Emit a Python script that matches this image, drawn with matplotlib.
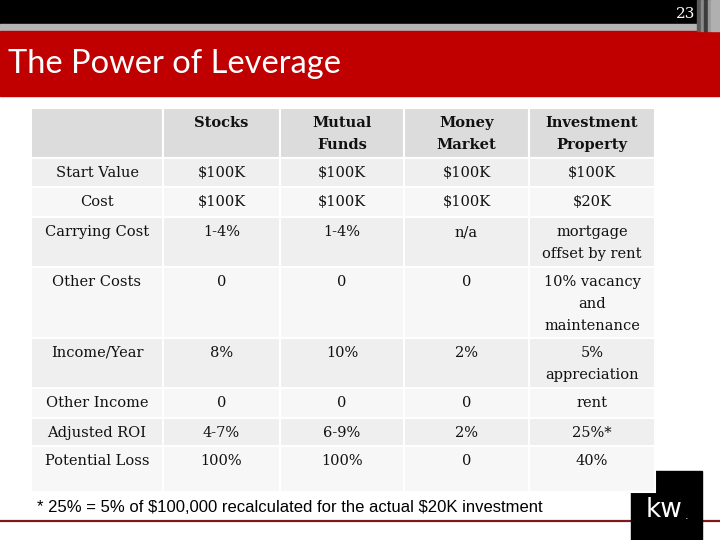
import matplotlib.pyplot as plt
from matplotlib.patches import Rectangle

# table content
headers = ["", "Stocks", "Mutual\nFunds", "Money\nMarket", "Investment\nProperty"]
row_labels = ["Start Value", "Cost", "Carrying Cost", "Other Costs",
              "Income/Year", "Other Income", "Adjusted ROI", "Potential Loss"]
stocks = ["$100K", "$100K", "1-4%", "0", "8%", "0", "4-7%", "100%"]
mutual_funds = ["$100K", "$100K", "1-4%", "0", "10%", "0", "6-9%", "100%"]
money_market = ["$100K", "$100K", "n/a", "0", "2%", "0", "2%", "0"]
investment_property = ["$100K", "$20K", "mortgage\noffset by rent",
                       "10% vacancy\nand\nmaintenance", "5%\nappreciation",
                       "rent", "25%*", "40%"]
title = "The Power of Leverage"
page_no = "23"
footnote = "* 25% = 5% of $100,000 recalculated for the actual $20K investment"

# layout (pixels)
col_edges = [31, 163, 280, 404, 529, 655]
row_edges = [108, 158, 187, 217, 267, 338, 388, 418, 446, 492]
LINE = 22
SERIF = ["DejaVu Serif"]

plt.rcParams["text.parse_math"] = False

fig = plt.figure(figsize=(7.2, 5.4), dpi=100)
ax = fig.add_axes([0, 0, 1, 1])
ax.set_xlim(0, 720)
ax.set_ylim(540, 0)
ax.axis("off")

# header bands
ax.add_patch(Rectangle((0, 0), 720, 24, color="black"))
ax.add_patch(Rectangle((0, 24), 720, 7, color="#b4b4b4"))
ax.add_patch(Rectangle((0, 31), 720, 65, color="#c00000"))
for x0, w, c in [(697, 3, "#5a5a5a"), (701, 2, "#8a8a8a"), (704, 3, "#3c3c3c"),
                 (708, 2, "#9a9a9a"), (711, 9, "#b0b0b0")]:
    ax.add_patch(Rectangle((x0, 0), w, 31, color=c))
ax.text(8, 64, title, color="white", fontsize=23.5, family="Lato",
        va="center", ha="left")
ax.text(686, 14, page_no, color="white", fontsize=11, family=SERIF,
        va="center", ha="center")

# bottom line and logo
ax.plot([0, 720], [521, 521], color="#7a1c1c", lw=1.6, solid_capstyle="butt")
ax.add_patch(Rectangle((631, 471), 71, 69, color="black", zorder=3))
ax.text(664, 510, "kw", color="white", fontsize=19, family="DejaVu Sans",
        va="center", ha="center", zorder=4)
ax.text(687, 516, ".", color="white", fontsize=8, family="DejaVu Sans",
        va="center", ha="center", zorder=4)

# table
columns = [row_labels, stocks, mutual_funds, money_market, investment_property]


def draw_cell(ci, ri, label, bold, fill):
    x0, x1 = col_edges[ci], col_edges[ci + 1]
    y0, y1 = row_edges[ri], row_edges[ri + 1]
    ax.add_patch(Rectangle((x0, y0), x1 - x0, y1 - y0, facecolor=fill,
                           edgecolor="white", lw=1.5, zorder=5))
    for k, line in enumerate(label.split("\n")):
        ax.text((x0 + x1) / 2, y0 + 15 + k * LINE, line, ha="center",
                va="center", fontsize=10.5, family=SERIF, color="#111111",
                fontweight="bold" if bold else "normal", zorder=6)


for ci, h in enumerate(headers):
    draw_cell(ci, 0, h, True, "#dcdcdc")
for ri in range(len(row_labels)):
    fill = "#efefef" if ri % 2 == 0 else "#f7f7f7"
    for ci, col in enumerate(columns):
        draw_cell(ci, ri + 1, col[ri], False, fill)

ax.text(37, 507, footnote, fontsize=12, family="Liberation Sans",
        color="black", va="center", ha="left")

fig.savefig("out.png", dpi=100)
